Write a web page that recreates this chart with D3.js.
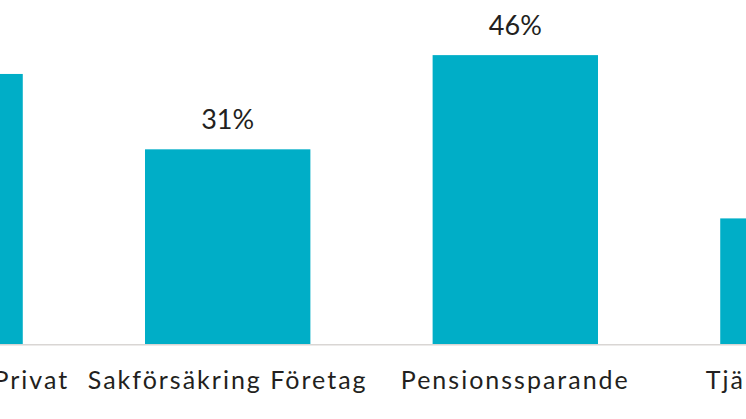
<!DOCTYPE html>
<html>
<head>
<meta charset="utf-8">
<script src="https://cdn.jsdelivr.net/npm/d3@7"></script>
<style>
  body { margin: 0; background: #fff; }
  text { font-family: "Lato", "Noto Sans", sans-serif; fill: #231f20; }
</style>
</head>
<body>
<div class="chart"></div>
<script>
var categories = ["Sakförsäkring Privat", "Sakförsäkring Företag", "Pensionssparande", "Tjänstepension"];
var values = [43, 31, 46, 20];

var width = 746;
var height = 419;
var baseY = 344;

// bands run past both edges, the chart is cropped
var xScale = d3.scaleBand()
  .domain(categories)
  .range([-203, 946])
  .paddingInner(0.425)
  .paddingOuter(0.21);

var yScale = d3.scaleLinear()
  .domain([0, 50])
  .range([baseY, 30]);

var svg = d3.select(".chart").append("svg")
  .attr("width", width)
  .attr("height", height);

var data = categories.map((c, i) => ({cat: c, value: values[i]}));

svg.selectAll(".bar")
  .data(data)
  .enter()
  .append("rect")
  .attr("class", "bar")
  .attr("x", d => xScale(d.cat))
  .attr("y", d => yScale(d.value))
  .attr("width", xScale.bandwidth())
  .attr("height", d => baseY - yScale(d.value))
  .attr("fill", "#00aec7");

// value labels
svg.selectAll(".val")
  .data(data)
  .enter()
  .append("text")
  .attr("class", "val")
  .attr("x", d => xScale(d.cat) + xScale.bandwidth() / 2)
  .attr("y", d => yScale(d.value) - 20)
  .attr("text-anchor", "middle")
  .attr("font-size", "27px")
  .text(d => d.value + "%");

// x axis
var xAxis = svg.append("g")
  .attr("transform", "translate(0," + baseY + ")")
  .call(d3.axisBottom(xScale).tickSize(0).tickPadding(27));

xAxis.select(".domain").remove();
xAxis.selectAll("text")
  .attr("font-size", "25px")
  .attr("letter-spacing", "2px")
  .attr("dy", "0.71em");

svg.append("line")
  .attr("x1", 0)
  .attr("x2", width)
  .attr("y1", baseY + 0.75)
  .attr("y2", baseY + 0.75)
  .attr("stroke", "#d9d6d4")
  .attr("stroke-width", 1.5);
</script>
</body>
</html>
